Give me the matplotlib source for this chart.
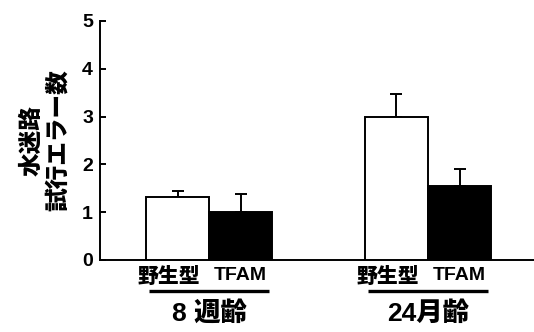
import numpy as np
import matplotlib.pyplot as plt
from matplotlib.transforms import ScaledTranslation

plt.rcParams['font.family'] = ['Liberation Sans', 'Noto Sans CJK JP', 'DejaVu Sans']
plt.rcParams['font.weight'] = 'bold'

groups = ['8 週齢', '24月齢']
genotypes = ['野生型', 'TFAM']
wt_mean = [1.31, 3.0]
wt_err = [0.14, 0.47]
tfam_mean = [1.01, 1.55]
tfam_err = [0.37, 0.35]

fig = plt.figure(figsize=(5.34, 3.32), dpi=100)
ax = fig.add_axes([100/534, 1-260/332, 1-100/534, (260-21)/332])

x = np.arange(1, len(groups)+1)
w = 0.288
ekw = dict(lw=1.4, capsize=4, capthick=1.4)
ax.bar(x - w/2, wt_mean, w, color='white', edgecolor='black', lw=1.4, zorder=3)
ax.errorbar(x - w/2, wt_mean, yerr=[np.zeros(2), wt_err], fmt='none', ecolor='black', zorder=2, **ekw)
ax.bar(x + w/2, tfam_mean, w, color='black', edgecolor='black', lw=1.4, zorder=3)
ax.errorbar(x + w/2, tfam_mean, yerr=[np.zeros(2), tfam_err], fmt='none', ecolor='black', zorder=2, **ekw)

ax.set_xlim(0.502, 2.484)
ax.set_ylim(0, 5)
ax.spines['top'].set_visible(False)
ax.spines['right'].set_visible(False)
ax.spines['left'].set_linewidth(1.4)
ax.spines['bottom'].set_linewidth(1.4)
ax.set_yticks(range(6))
ax.tick_params(axis='y', direction='in', length=4, width=1.4, labelsize=14, pad=5)

# genotype labels under each bar, group underline and age label
ax.set_xticks([])
off = ScaledTranslation(-9/100, 0, fig.dpi_scale_trans)
for i, xi in enumerate(x):
    ax.text(xi - w/2, -0.15, genotypes[0], ha='center', va='top', fontsize=15,
            fontweight='heavy', transform=ax.transData + off)
    ax.text(xi + w/2, -0.15, genotypes[1], ha='center', va='top', fontsize=14,
            fontweight='bold')
    ax.plot([xi - w + 0.015, xi + w - 0.015], [-0.64, -0.64], color='black', lw=2.4,
            clip_on=False, solid_capstyle='butt')
    ax.text(xi, -0.86, groups[i], ha='center', va='top', fontsize=19,
            fontweight='heavy')

ax.set_ylabel('水迷路\n試行エラー数', fontsize=17, fontweight='heavy', linespacing=1.2, labelpad=9)

fig.savefig('out.png', dpi=100)
